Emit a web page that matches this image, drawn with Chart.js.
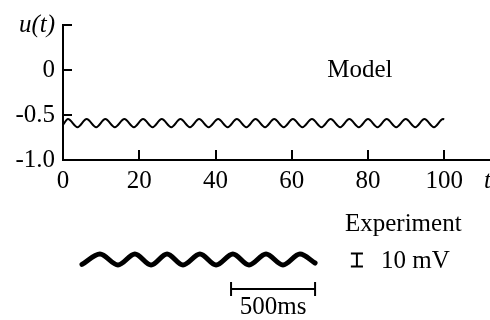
<!DOCTYPE html>
<html>
<head>
<meta charset="utf-8">
<script src="https://cdn.jsdelivr.net/npm/chart.js@4.4.1/dist/chart.umd.min.js"></script>
<style>
  html, body { margin: 0; padding: 0; background: #fff; }
  #wrap { position: relative; width: 490px; height: 320px; overflow: hidden; }
  #top { position: absolute; left: 0; top: 0; }
  #bottom { position: absolute; left: 0; top: 200px; }
</style>
</head>
<body>
<div id="wrap">
  <canvas id="top" width="490" height="200"></canvas>
  <canvas id="bottom" width="490" height="120"></canvas>
</div>
<script>
// model trace u(t), peaks and troughs
const modelT = [0, 1.3, 3.8, 6.2, 8.7, 11.1, 13.6, 16.1, 18.6, 21.0, 23.5, 25.9, 28.4, 30.8, 33.3,
  35.7, 38.2, 40.7, 43.2, 45.6, 48.1, 50.5, 53.0, 55.4, 57.9, 60.3, 62.8, 65.3, 67.8, 70.2, 72.7,
  75.1, 77.6, 80.0, 82.5, 84.9, 87.4, 89.9, 92.4, 94.8, 97.3, 99.7, 100];
const modelU = [-0.61, -0.545, -0.635, -0.545, -0.635, -0.545, -0.635, -0.545, -0.635, -0.545, -0.635,
  -0.545, -0.635, -0.545, -0.635, -0.545, -0.635, -0.545, -0.635, -0.545, -0.635, -0.545, -0.635,
  -0.545, -0.635, -0.545, -0.635, -0.545, -0.635, -0.545, -0.635, -0.545, -0.635, -0.545, -0.635,
  -0.545, -0.635, -0.545, -0.635, -0.545, -0.635, -0.545, -0.548];

const xTicks = [0, 20, 40, 60, 80, 100];
const yTicks = [-1, -0.5, 0, 0.5];
const yTickLabels = ['-1.0', '-0.5', '0', 'u(t)'];

// experiment trace (ms, mV)
const expT = [0, 107, 214, 315, 411, 506, 601, 702, 798, 898, 994, 1095, 1196, 1297, 1387];
const expV = [-3.8, 4.2, -4.2, 4.2, -4.2, 4.2, -4.2, 4.2, -4.2, 4.2, -4.2, 4.2, -4.2, 4.2, -2.7];

// scale bars
const timeBar = [887, 1387];    // 500 ms
const voltBar = [-5.4, 4.6];    // 10 mV

const serif = '"Liberation Serif", "Times New Roman", serif';
const fontSize = 25;

const topMarks = {
  id: 'topMarks',
  afterDraw(chart) {
    const ctx = chart.ctx;
    const xs = chart.scales.x, ys = chart.scales.y;
    ctx.save();
    ctx.strokeStyle = '#000';
    ctx.lineWidth = 2;
    yTicks.forEach(v => {
      const p = Math.round(ys.getPixelForValue(v));
      ctx.beginPath();
      ctx.moveTo(xs.left, p);
      ctx.lineTo(xs.left + 9, p);
      ctx.stroke();
    });
    xTicks.forEach(v => {
      if (v === 0) return;
      const p = Math.round(xs.getPixelForValue(v));
      ctx.beginPath();
      ctx.moveTo(p, ys.bottom);
      ctx.lineTo(p, ys.bottom - 10);
      ctx.stroke();
    });
    ctx.fillStyle = '#000';
    ctx.textBaseline = 'middle';
    ctx.font = fontSize + 'px ' + serif;
    ctx.fillText('Model', xs.getPixelForValue(69.3), ys.getPixelForValue(0));
    ctx.font = 'italic ' + fontSize + 'px ' + serif;
    ctx.fillText('t', xs.getPixelForValue(110.4), ys.bottom + 21);
    ctx.restore();
  }
};

new Chart(document.getElementById('top'), {
  type: 'line',
  data: {
    datasets: [{
      data: modelT.map((t, i) => ({ x: t, y: modelU[i] })),
      borderColor: '#000',
      borderWidth: 2,
      pointRadius: 0,
      cubicInterpolationMode: 'monotone',
      fill: false
    }]
  },
  options: {
    responsive: false,
    animation: false,
    layout: { padding: { top: 25, right: 0, bottom: 0, left: 0 } },
    plugins: { legend: { display: false }, tooltip: { enabled: false } },
    scales: {
      x: {
        type: 'linear',
        min: 0,
        max: 112,
        grid: { display: false, drawTicks: false },
        border: { display: true, color: '#000', width: 2 },
        afterBuildTicks: s => { s.ticks = xTicks.map(v => ({ value: v })); },
        afterFit: s => { s.height = 40; },
        ticks: {
          color: '#000',
          padding: 6,
          maxRotation: 0,
          font: { family: serif, size: fontSize },
          callback: v => String(v)
        }
      },
      y: {
        min: -1,
        max: 0.5,
        grid: { display: false, drawTicks: false },
        border: { display: true, color: '#000', width: 2 },
        afterBuildTicks: s => { s.ticks = yTicks.map(v => ({ value: v })); },
        afterFit: s => { s.width = 63; },
        ticks: {
          color: '#000',
          padding: 8,
          font: c => ({ family: serif, size: fontSize, style: c.tick && c.tick.value === 0.5 ? 'italic' : 'normal' }),
          callback: v => yTickLabels[yTicks.indexOf(v)]
        }
      }
    }
  },
  plugins: [topMarks]
});

const bottomText = {
  id: 'bottomText',
  afterDraw(chart) {
    const ctx = chart.ctx;
    const xs = chart.scales.x, ys = chart.scales.y;
    ctx.save();
    ctx.fillStyle = '#000';
    ctx.font = fontSize + 'px ' + serif;
    ctx.textBaseline = 'middle';
    ctx.textAlign = 'left';
    ctx.fillText('Experiment', xs.getPixelForValue(1565), ys.getPixelForValue(26.9));
    ctx.fillText('10 mV', xs.getPixelForValue(1779), ys.getPixelForValue(-1.15));
    ctx.textAlign = 'center';
    ctx.fillText('500ms', xs.getPixelForValue((timeBar[0] + timeBar[1]) / 2), ys.getPixelForValue(-36.5));
    ctx.restore();
  }
};

const iX = 1636, capW = 36, barY = -22.7, barTick = 5.4;

new Chart(document.getElementById('bottom'), {
  type: 'line',
  data: {
    datasets: [{
      data: expT.map((t, i) => ({ x: t, y: expV[i] })),
      borderColor: '#000',
      borderWidth: 5,
      pointRadius: 0,
      cubicInterpolationMode: 'monotone',
      borderCapStyle: 'round',
      borderJoinStyle: 'round'
    }, {
      // 500 ms bar with end ticks
      data: [
        { x: timeBar[0], y: barY + barTick }, { x: timeBar[0], y: barY - barTick }, { x: timeBar[0], y: null },
        { x: timeBar[0], y: barY }, { x: timeBar[1], y: barY }, { x: timeBar[1], y: null },
        { x: timeBar[1], y: barY + barTick }, { x: timeBar[1], y: barY - barTick }
      ],
      borderColor: '#000',
      borderWidth: 2,
      pointRadius: 0,
      spanGaps: false
    }, {
      // 10 mV I-beam
      data: [
        { x: iX - capW, y: voltBar[1] }, { x: iX + capW, y: voltBar[1] }, { x: iX, y: null },
        { x: iX, y: voltBar[1] }, { x: iX, y: voltBar[0] }, { x: iX + 1, y: null },
        { x: iX - capW, y: voltBar[0] }, { x: iX + capW, y: voltBar[0] }
      ],
      borderColor: '#000',
      borderWidth: 2,
      pointRadius: 0,
      spanGaps: false
    }]
  },
  options: {
    responsive: false,
    animation: false,
    layout: { padding: 0 },
    plugins: { legend: { display: false }, tooltip: { enabled: false } },
    scales: {
      x: { type: 'linear', display: false, min: -488, max: 2428 },
      y: { display: false, min: -46.54, max: 45.77 }
    }
  },
  plugins: [bottomText]
});
</script>
</body>
</html>
